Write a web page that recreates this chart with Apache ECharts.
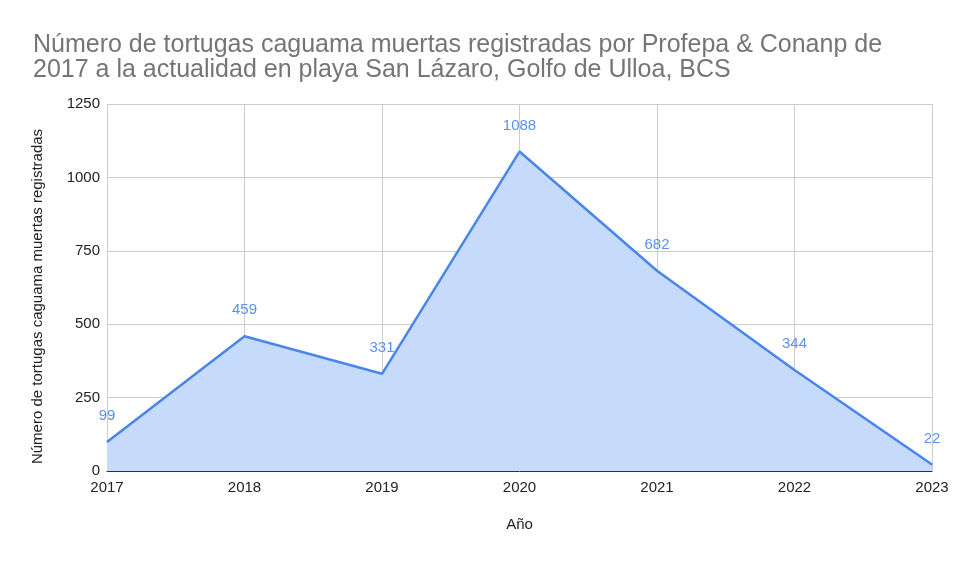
<!DOCTYPE html>
<html><head><meta charset="utf-8">
<script src="https://cdn.jsdelivr.net/npm/echarts@6/dist/echarts.min.js"></script>
<style>html,body{margin:0;padding:0;background:#fff}#c{width:960px;height:561px}</style>
</head><body><div id="c"></div>
<script>
const years = ['2017','2018','2019','2020','2021','2022','2023'];
const muertes = [99, 459, 331, 1088, 682, 344, 22];
const yTicks = [0, 250, 500, 750, 1000, 1250];
const titleText = 'Número de tortugas caguama muertas registradas por Profepa & Conanp de\n2017 a la actualidad en playa San Lázaro, Golfo de Ulloa, BCS';
const chart = echarts.init(document.getElementById('c'));
const F = '"Liberation Sans", Arial, sans-serif';
chart.setOption({
  animation: false,
  title: {text: titleText, left: 28, top: 28, textStyle: {fontFamily: F, fontSize: 25, fontWeight: 'normal', color: '#757575', lineHeight: 25}},
  grid: {left: 107, right: 28, top: 104, bottom: 90},
  xAxis: {type: 'category', data: years, boundaryGap: false,
    name: 'Año', nameLocation: 'middle', nameGap: 46, nameTextStyle: {fontFamily: F, fontSize: 15, color: '#222'},
    axisLine: {lineStyle: {color: '#333', width: 1}}, axisTick: {show: false},
    axisLabel: {fontFamily: F, fontSize: 15, color: '#222', margin: 9, showMinLabel: true, showMaxLabel: true},
    splitLine: {show: true, lineStyle: {color: '#ccc'}}},
  yAxis: {type: 'value', min: yTicks[0], max: yTicks[yTicks.length-1], interval: 250,
    name: 'Número de tortugas caguama muertas registradas', nameLocation: 'middle', nameGap: 62,
    nameTextStyle: {fontFamily: F, fontSize: 15, color: '#222', padding: [0, 18, 0, 0]},
    axisLine: {show: false}, axisTick: {show: false},
    axisLabel: {fontFamily: F, fontSize: 15, color: '#222', margin: 7, formatter: v => String(v)},
    splitLine: {lineStyle: {color: '#ccc'}}},
  series: [{type: 'line', data: muertes, symbol: 'circle', symbolSize: 1, showSymbol: true,
    itemStyle: {color: '#4a86e8'},
    lineStyle: {color: '#4a86e8', width: 2.5},
    areaStyle: {color: '#c6dafc', opacity: 1},
    label: {show: true, position: 'top', distance: 18, fontFamily: F, fontSize: 15, color: '#5b91eb'}}]
});
</script></body></html>
